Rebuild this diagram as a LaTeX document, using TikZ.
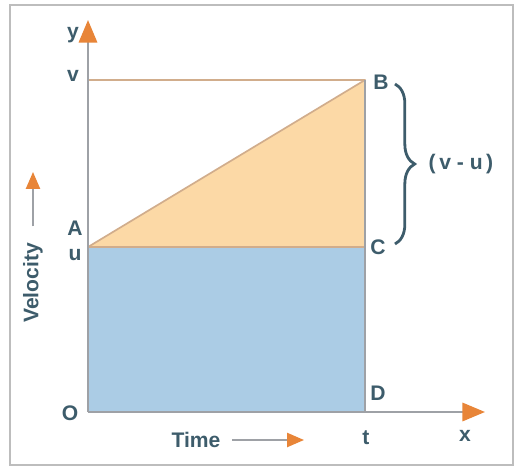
\documentclass[tikz,border=0pt]{standalone}
\usepackage{fontspec}
\setmainfont{Liberation Sans}
\usetikzlibrary{arrows.meta,calc,decorations.pathreplacing}
\usepackage{tkz-euclide}
\definecolor{AxisClr}{rgb}{0.62,0.63,0.65}
\definecolor{TipClr}{rgb}{0.91,0.52,0.22}
\definecolor{TextClr}{rgb}{0.24,0.36,0.42}
\definecolor{UpperClr}{rgb}{0.99,0.85,0.65}
\definecolor{LowerClr}{rgb}{0.67,0.80,0.90}
\definecolor{EdgeClr}{rgb}{0.82,0.68,0.55}
\definecolor{FrameClr}{rgb}{0.74,0.74,0.74}

\begin{document}
\begin{tikzpicture}[x=0.025cm,y=0.025cm,
  font=\fontsize{15}{17}\bfseries\selectfont,
  lbl/.style={text=TextClr,inner sep=1pt},
  axis/.style={draw=AxisClr,line width=1.6pt,
    -{Triangle[color=TipClr,length=16pt,width=13pt]}},
  hint/.style={draw=AxisClr,line width=1.4pt,
    -{Triangle[color=TipClr,length=12pt,width=10pt]}}]
\useasboundingbox (-88,-58) rectangle (428,412);
\draw[FrameClr,line width=1.6pt] (-78,-53) rectangle (425,407);

\tkzDefPoints{0/0/O,277/0/D,277/165/C,0/165/A,277/332/B,0/332/V,
  0/392/Y,397/0/X,307/328/Bt,307/168/Cb}

\tkzFillPolygon[fill=LowerClr](O,D,C,A)
\tkzFillPolygon[fill=UpperClr](A,C,B)

\tkzDrawSegments[draw=EdgeClr,line width=1.2pt](V,B A,B A,C)
\draw[AxisClr,line width=1.4pt] (B) -- (D);
\draw[axis] (O) -- (Y);
\draw[axis] (O) -- (X);

\draw[decorate,decoration={brace,amplitude=14pt},TextClr,line width=2pt]
  (Bt) -- (Cb) node[midway,right=22pt,lbl,name=vu] {(\,v - u\,)};

\node[lbl] (ly) at (-15,377) {y};
\node[lbl] (lv) at (-15,336) {v};
\node[lbl] (lA) at (-13,184) {A};
\node[lbl] (lu) at (-13,157) {u};
\node[lbl] (lO) at (-18,-1) {O};
\node[lbl] (lB) at (293,330) {B};
\node[lbl] (lC) at (290,165) {C};
\node[lbl] (lD) at (290,19) {D};
\node[lbl] (lt) at (278,-26) {t};
\node[lbl] (lx) at (377,-24) {x};

\node[lbl,rotate=90] (vel) at (-55,129) {Velocity};
\coordinate (velTip) at (-55,240);
\draw[hint] (vel.east) ++(0,15) coordinate (velBase) -- (velTip);
\node[lbl] (time) at (108,-28) {Time};
\coordinate (timeTip) at (216,-28);
\draw[hint] (time.east) ++(10,0) coordinate (timeBase) -- (timeTip);
\end{tikzpicture}
\end{document}
